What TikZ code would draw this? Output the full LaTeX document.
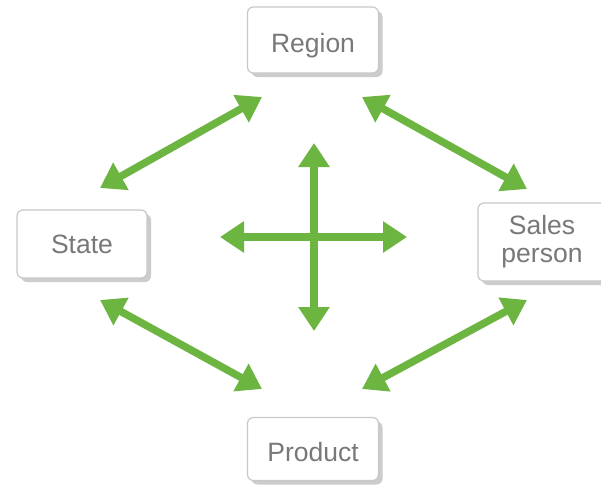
\documentclass[tikz,border=0pt]{standalone}
\usepackage{fontspec}
\setmainfont{Liberation Sans}
\usetikzlibrary{arrows.meta,shadows}
\definecolor{grn}{RGB}{108,181,64}
\definecolor{txt}{RGB}{120,120,120}
\definecolor{bord}{RGB}{200,200,200}
\begin{document}
\begin{tikzpicture}[x=1pt,y=-1pt,
  box/.style={draw=bord,line width=1.2pt,rounded corners=6pt,fill=white,
    text=txt,font=\fontsize{26.5}{27}\selectfont,inner sep=0pt,
    drop shadow={shadow xshift=4pt,shadow yshift=-4pt,fill=black!20,opacity=1}},
  low/.style={text height=25pt,text depth=0pt},
  garrow/.style={draw=grn,line width=7.5pt,{Triangle[length=24pt,width=30pt]}-{Triangle[length=24pt,width=30pt]}}]
\clip (0,0) rectangle (601,495);
\fill[white] (0,0) rectangle (601,495);
\node[box,low,minimum width=131pt,minimum height=66pt] (region) at (313,40) {Region};
\node[box,minimum width=130pt,minimum height=68pt] (state) at (82,244) {State};
\node[box,align=center,minimum width=128pt,minimum height=78pt,text width=128pt] (sales) at (542,242) {Sales\\[1pt]person};
\node[box,low,minimum width=131pt,minimum height=63pt] (product) at (313,449) {Product};
% connector end points
\coordinate (rs1) at (100,188); \coordinate (rs2) at (262,97);
\coordinate (rp1) at (362,97);  \coordinate (rp2) at (527,189);
\coordinate (sp1) at (100,300); \coordinate (sp2) at (262,389);
\coordinate (pp1) at (527,300); \coordinate (pp2) at (362,389);
\coordinate (vt) at (314,143); \coordinate (vb) at (314,331);
\coordinate (hl) at (220,237); \coordinate (hr) at (407,237);
\draw[garrow] (rs1) -- (rs2);
\draw[garrow] (rp1) -- (rp2);
\draw[garrow] (sp1) -- (sp2);
\draw[garrow] (pp1) -- (pp2);
\draw[garrow] (vt) -- (vb);
\draw[garrow] (hl) -- (hr);
\end{tikzpicture}
\end{document}
